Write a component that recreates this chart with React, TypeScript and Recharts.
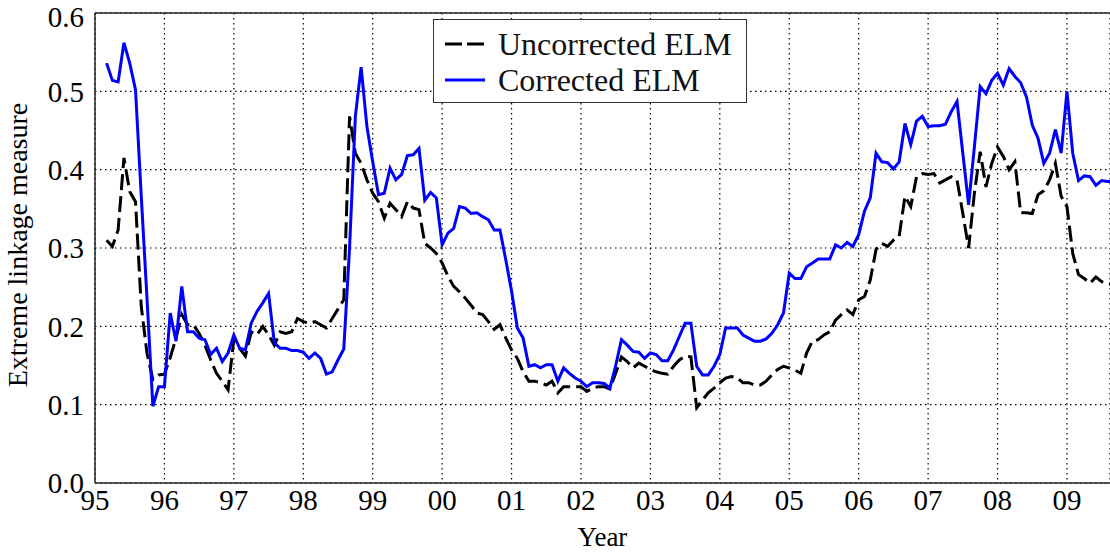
import {
  CartesianGrid,
  Legend,
  Line,
  LineChart,
  ReferenceLine,
  XAxis,
  YAxis,
} from 'recharts'

const SERIF = '"Liberation Serif", "Times New Roman", serif'

// Monthly observations, first one is March 1995 (month index 2).
const FIRST_YEAR = 1995
const FIRST_MONTH = 2

const yearTicks = [
  1995, 1996, 1997, 1998, 1999, 2000, 2001, 2002, 2003, 2004, 2005, 2006, 2007, 2008, 2009,
]
const valueTicks = [0, 0.1, 0.2, 0.3, 0.4, 0.5, 0.6]

// Uncorrected ELM (black dashed)
const uncorrected = [
  // 1995 (Mar-Dec)
  0.31, 0.302, 0.323, 0.415, 0.372, 0.359, 0.225, 0.165, 0.132, 0.138,
  // 1996
  0.139, 0.16, 0.185, 0.215, 0.202, 0.202, 0.191, 0.176, 0.157, 0.14, 0.13, 0.119,
  // 1997
  0.183, 0.172, 0.162, 0.193, 0.189, 0.2, 0.189, 0.176, 0.193, 0.191, 0.193, 0.21,
  // 1998
  0.206, 0.204, 0.206, 0.202, 0.198, 0.21, 0.222, 0.234, 0.468, 0.421, 0.408, 0.387,
  // 1999
  0.37, 0.359, 0.338, 0.357, 0.349, 0.34, 0.359, 0.351, 0.349, 0.306, 0.3, 0.293,
  // 2000
  0.281, 0.264, 0.251, 0.244, 0.236, 0.227, 0.217, 0.215, 0.206, 0.196, 0.202, 0.185,
  // 2001
  0.17, 0.159, 0.142, 0.13, 0.13, 0.128, 0.125, 0.13, 0.115, 0.123, 0.123, 0.123,
  // 2002
  0.123, 0.117, 0.121, 0.123, 0.123, 0.12, 0.14, 0.161, 0.155, 0.147, 0.153, 0.149,
  // 2003
  0.145, 0.142, 0.14, 0.139, 0.149, 0.157, 0.162, 0.161, 0.096, 0.106, 0.115, 0.121,
  // 2004
  0.128, 0.134, 0.136, 0.134, 0.128, 0.128, 0.125, 0.125, 0.13, 0.138, 0.145, 0.149,
  // 2005
  0.147, 0.144, 0.14, 0.166, 0.181, 0.183, 0.189, 0.193, 0.208, 0.215, 0.221, 0.215,
  // 2006
  0.234, 0.238, 0.259, 0.298, 0.306, 0.302, 0.31, 0.315, 0.366, 0.353, 0.391, 0.395,
  // 2007
  0.394, 0.395, 0.383, 0.387, 0.391, 0.387, 0.344, 0.3, 0.37, 0.423, 0.378, 0.408,
  // 2008
  0.429, 0.417, 0.4, 0.41, 0.345, 0.345, 0.344, 0.368, 0.373, 0.387, 0.408, 0.366,
  // 2009 (Jan-Sep)
  0.353, 0.293, 0.266, 0.261, 0.255, 0.263, 0.257, 0.255, 0.253,
]

// Corrected ELM (blue solid)
const corrected = [
  // 1995 (Mar-Dec)
  0.536, 0.514, 0.512, 0.562, 0.536, 0.502, 0.366, 0.234, 0.098, 0.123,
  // 1996
  0.123, 0.217, 0.181, 0.251, 0.193, 0.193, 0.185, 0.183, 0.164, 0.172, 0.155, 0.166,
  // 1997
  0.189, 0.172, 0.17, 0.204, 0.219, 0.23, 0.242, 0.179, 0.172, 0.172, 0.169, 0.169,
  // 1998
  0.167, 0.159, 0.166, 0.159, 0.139, 0.142, 0.157, 0.171, 0.3, 0.468, 0.531, 0.455,
  // 1999
  0.41, 0.368, 0.37, 0.402, 0.387, 0.394, 0.418, 0.419, 0.427, 0.361, 0.371, 0.364,
  // 2000
  0.304, 0.319, 0.325, 0.353, 0.351, 0.344, 0.345, 0.34, 0.336, 0.323, 0.323, 0.285,
  // 2001
  0.245, 0.198, 0.185, 0.149, 0.151, 0.147, 0.151, 0.151, 0.13, 0.147, 0.14, 0.134,
  // 2002
  0.13, 0.123, 0.128, 0.128, 0.127, 0.121, 0.15, 0.183, 0.176, 0.168, 0.167, 0.159,
  // 2003
  0.166, 0.164, 0.156, 0.156, 0.17, 0.187, 0.204, 0.204, 0.149, 0.138, 0.138, 0.149,
  // 2004
  0.164, 0.198, 0.198, 0.198, 0.189, 0.185, 0.181, 0.181, 0.184, 0.191, 0.202, 0.217,
  // 2005
  0.268, 0.261, 0.261, 0.276, 0.281, 0.286, 0.286, 0.286, 0.304, 0.3, 0.307, 0.302,
  // 2006
  0.317, 0.347, 0.364, 0.421, 0.41, 0.409, 0.401, 0.41, 0.459, 0.432, 0.462, 0.468,
  // 2007
  0.455, 0.456, 0.456, 0.458, 0.474, 0.487, 0.421, 0.355, 0.429, 0.506, 0.497, 0.514,
  // 2008
  0.523, 0.508, 0.529, 0.519, 0.511, 0.493, 0.457, 0.44, 0.408, 0.421, 0.451, 0.421,
  // 2009 (Jan-Sep)
  0.5, 0.421, 0.386, 0.392, 0.391, 0.38, 0.386, 0.385, 0.385,
]

const legendItems = [
  { name: 'Uncorrected ELM', color: '#000', dash: '17 5' },
  { name: 'Corrected ELM', color: '#0000ff', dash: undefined },
]

const rows = corrected.map((c, i) => ({
  t: FIRST_YEAR + (FIRST_MONTH + i) / 12,
  uncorrected: uncorrected[i],
  corrected: c,
}))

const tickStyle = { fill: '#000', fontSize: 29, fontFamily: SERIF }
const axisLine = { stroke: '#222', strokeWidth: 1.5 }

function LegendBox() {
  return (
    <div
      style={{
        width: 314,
        height: 84,
        boxSizing: 'border-box',
        border: '1.5px solid #333',
        background: '#fff',
        fontFamily: SERIF,
        fontSize: 32,
        color: '#111',
        padding: '6px 0 0 11px',
      }}
    >
      {legendItems.map((item) => (
        <div
          key={item.name}
          style={{ display: 'flex', alignItems: 'center', height: 36, lineHeight: '36px' }}
        >
          <svg width={40} height={36} style={{ marginRight: 13, flex: 'none' }}>
            <line
              x1={0}
              x2={40}
              y1={18}
              y2={18}
              stroke={item.color}
              strokeWidth={3}
              strokeDasharray={item.dash}
            />
          </svg>
          <span style={{ whiteSpace: 'nowrap' }}>{item.name}</span>
        </div>
      ))}
    </div>
  )
}

function YLabel({ viewBox }: { viewBox?: { x: number; y: number; width: number; height: number } }) {
  if (!viewBox) return null
  const cx = viewBox.x + 27
  const cy = viewBox.y + viewBox.height / 2 - 3
  return (
    <text
      x={cx}
      y={cy}
      transform={`rotate(-90 ${cx} ${cy})`}
      textAnchor="middle"
      fill="#000"
      fontSize={28}
      fontFamily={SERIF}
    >
      Extreme linkage measure
    </text>
  )
}

export default function App() {
  return (
    <div
      style={{
        position: 'absolute',
        left: 0,
        top: 0,
        width: 1110,
        height: 554,
        overflow: 'hidden',
        background: '#fff',
      }}
    >
      <LineChart
        width={1110}
        height={554}
        data={rows}
        margin={{ top: 13, right: 0, bottom: 0, left: 0 }}
      >
        <CartesianGrid stroke="#000" strokeWidth={1.2} strokeDasharray="1.5 3.5" />
        <XAxis
          dataKey="t"
          type="number"
          domain={[1995, 2009.62]}
          allowDataOverflow
          ticks={yearTicks}
          tickFormatter={(v: number) => String(Math.round(v) % 100).padStart(2, '0')}
          tick={tickStyle}
          tickLine={false}
          tickSize={0}
          tickMargin={6}
          axisLine={axisLine}
          height={71}
          label={{
            value: 'Year',
            position: 'insideBottom',
            offset: 8,
            fill: '#000',
            fontSize: 27,
            fontFamily: SERIF,
          }}
        />
        <YAxis
          type="number"
          domain={[0, 0.6]}
          ticks={valueTicks}
          tickFormatter={(v: number) => v.toFixed(1)}
          tick={tickStyle}
          tickLine={false}
          tickSize={0}
          tickMargin={11}
          axisLine={axisLine}
          width={95}
          label={<YLabel />}
        />
        <ReferenceLine y={0.6} stroke="#222" strokeWidth={1.5} />
        <Legend
          layout="vertical"
          align="center"
          verticalAlign="middle"
          content={() => <LegendBox />}
          wrapperStyle={{ left: 433, top: 19, width: 314, height: 84 }}
        />
        <Line
          dataKey="uncorrected"
          name="Uncorrected ELM"
          type="linear"
          stroke="#000"
          strokeWidth={3}
          strokeDasharray="16 6"
          dot={false}
          activeDot={false}
          isAnimationActive={false}
        />
        <Line
          dataKey="corrected"
          name="Corrected ELM"
          type="linear"
          stroke="#0000ff"
          strokeWidth={3}
          dot={false}
          activeDot={false}
          isAnimationActive={false}
        />
      </LineChart>
    </div>
  )
}
